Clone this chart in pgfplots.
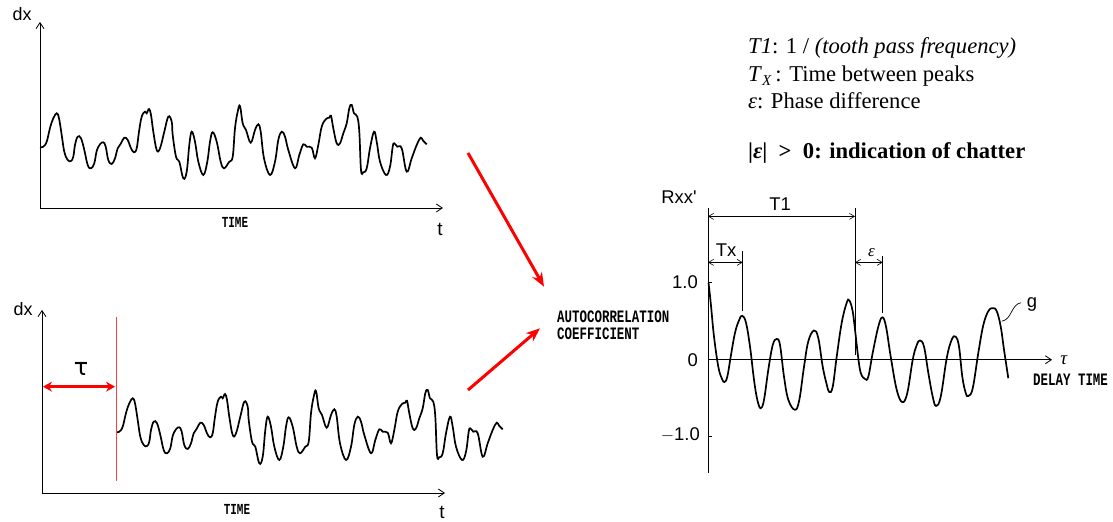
\documentclass[border=0pt]{standalone}
\usepackage{fontspec}
\setmainfont{Liberation Serif}
\newfontfamily\lsans{Liberation Sans}
\newfontfamily\lmono{Liberation Mono}
\newfontfamily\dvs{DejaVu Sans}
\usepackage{pgfplots}
\pgfplotsset{compat=1.18}
\usepackage{pgfplotstable}
\usetikzlibrary{arrows.meta}

\pgfplotstableread{
t h
40 60.7
43.3 61.3
46.7 66.3
50 80
53.3 89.7
56.7 94.7
59 89.7
61.7 73
64.3 56.3
67.7 48
71 47
73.3 51.3
75 63
77.7 71.3
81 69.7
84.3 58
87.7 43
91 39.7
94.3 44.7
96.7 57
100 63.7
103.3 65.7
105.7 61.3
108.3 48
111.7 44
115 49.7
117.7 59.7
121 64.7
124.3 70.3
127.7 68
131 59.7
134 55.7
136.7 59.7
139 76.3
141.7 91.3
145 96.3
146.7 94.7
149 99
151 93
153.3 76.3
156.7 58
160 59.7
164.3 76.3
168.3 91.3
171.7 86.3
172.7 73
176 51.3
179.3 46.3
183.3 29.7
186.7 36.3
189.3 63
191.7 76.3
195 66.3
198.3 46.3
203.3 33
207.3 46.3
210 66.3
212.7 75.7
216.7 66.3
220.7 46.3
224 39.7
229.3 46.3
232.7 51.3
235 79.7
237.7 96.3
240 102
242.7 84.7
246 78
250.7 65.3
255 78
258.3 83.7
260.7 76.3
264 49.7
270 33
275 46.3
278.3 68
281.7 76.3
285 71.3
288.3 58
295 39.7
299.3 53
303.3 63.7
306.7 61.3
311.7 60.3
315 49.7
318.3 63
321.7 81.3
326 89
329.3 90.3
331 92.3
333.3 79.7
336.7 64.7
340 64.7
343.3 74.7
346.7 84.7
349.3 99.7
351.7 103
354 94.7
357.3 91.3
359.3 76.3
361 38
363.3 35.7
366.7 39.7
370 59.7
374 76.3
376.7 66.3
380 46.3
386 33
390 41.3
392.7 61.3
394.3 64.7
397.3 61.3
401.7 59.7
406.7 36.3
411.7 49.7
416.7 63
420.7 70.3
423.3 67
426.7 63.7
}\signal

\pgfplotstableread{
tau R
0.5 1.00
2.7 0.74
6 0.30
10.3 -0.09
13.7 -0.24
16.3 -0.29
19.3 -0.22
22.7 0.04
27 0.35
31.3 0.52
34.3 0.57
38 0.48
42 0.17
46 -0.26
49.3 -0.52
52.7 -0.63
56 -0.52
60.3 -0.13
64.7 0.19
68.7 0.27
72 0.19
76 -0.22
80.3 -0.52
87 -0.65
91.3 -0.52
96 -0.09
100.3 0.24
106 0.38
110.3 0.28
114.7 -0.09
118.7 -0.32
121.3 -0.42
124.7 -0.35
128.7 0.04
133.7 0.48
138.7 0.74
141.3 0.77
144.5 0.64
147 0.39
150 0.05
152.7 -0.17
157 -0.25
160.3 -0.22
164.7 0.09
170.3 0.43
174.3 0.55
178 0.43
182.7 0.04
188.7 -0.39
194.3 -0.55
199.3 -0.43
204.7 0.0
208.7 0.19
212 0.25
216 0.17
220.3 -0.17
224.7 -0.48
228 -0.60
232.7 -0.48
238.7 0.02
243.7 0.26
247.7 0.30
251 0.17
254.3 -0.22
257.7 -0.43
260.3 -0.47
264.7 -0.37
270.3 0.09
275.3 0.45
280.3 0.63
284.7 0.67
288.7 0.63
292.7 0.43
296 0.13
300.3 -0.24
}\acf

\tikzset{
  barb/.style={-{Straight Barb[length=6bp,width=8bp]}},
  dim/.style={line width=0.6bp,{Straight Barb[length=5bp,width=6bp]}-{Straight Barb[length=5bp,width=6bp]}},
  mono/.style={font=\lmono\bfseries\fontsize{12.5}{14}\selectfont},
  sig/.style={black,line width=1.7bp,smooth,tension=0.65},
}
\newcommand{\cond}[1]{\scalebox{1}[1.4]{#1}}

\begin{document}
\begin{tikzpicture}[x=1bp,y=1bp]
\path[use as bounding box] (0,0) rectangle (1113,522);

% ---- top signal ----
\begin{axis}[at={(40bp,314bp)},anchor=south west,scale only axis,
  width=403bp,height=186bp,xmin=40,xmax=443,ymin=0,ymax=186,
  axis lines=left,axis line style={line width=0.8bp,barb},
  xtick=\empty,ytick=\empty,clip=false]
\addplot[sig] table[x=t,y=h]{\signal};
\end{axis}

% ---- bottom (delayed) signal ----
\begin{axis}[at={(42bp,29bp)},anchor=south west,scale only axis,
  width=403bp,height=183bp,xmin=-34,xmax=369,ymin=0,ymax=183,
  axis lines=left,axis line style={line width=0.8bp,barb},
  xtick=\empty,ytick=\empty,clip=false]
\addplot[sig] table[x=t,y=h]{\signal};
\end{axis}

% ---- autocorrelation ----
\begin{axis}[at={(708bp,49bp)},anchor=south west,scale only axis,
  width=344bp,height=265bp,xmin=0,xmax=344,ymin=-1.47,ymax=1.97,
  axis lines=none,clip=false]
\draw[line width=0.8bp] (axis cs:0,1.97) -- (axis cs:0,-1.47);
\draw[line width=0.8bp,barb] (axis cs:0,0) -- (axis cs:344,0);
\draw[line width=0.8bp] (axis cs:0,1) -- (axis cs:4,1);
\draw[line width=0.8bp] (axis cs:0,-1) -- (axis cs:4,-1);
\addplot[sig] table[x=tau,y=R]{\acf};
% dimension lines
\draw[line width=0.6bp] (axis cs:147,1.97) -- (axis cs:147,0.065);
\draw[dim] (axis cs:0,1.861) -- (axis cs:147,1.861);
\draw[line width=0.6bp] (axis cs:34.7,1.406) -- (axis cs:34.7,0.627);
\draw[dim] (axis cs:0,1.264) -- (axis cs:34.7,1.264);
\draw[line width=0.6bp] (axis cs:174.7,1.342) -- (axis cs:174.7,0.61);
\draw[dim] (axis cs:147,1.264) -- (axis cs:174.7,1.264);
\draw[line width=0.7bp] (axis cs:293.7,0.50) .. controls (axis cs:304,0.52) and (axis cs:303,0.72) .. (axis cs:313,0.74);
\end{axis}

% labels of autocorrelation axis
\begin{scope}[font=\lsans\fontsize{18.5}{20}\selectfont]
\node[anchor=east,inner sep=0] at (698,240) {1.0};
\node[anchor=east,inner sep=0] at (698,162) {0};
\node[anchor=east,inner sep=0] at (700,87) {$-$1.0};
\node[inner sep=0] at (679,325) {Rxx\textquotesingle};
\node[inner sep=0] at (780,318) {T1};
\node[inner sep=0] at (726,272) {Tx};
\node[inner sep=0] at (1032,218) {g};
\end{scope}
\node[inner sep=0,font=\fontsize{17}{19}\selectfont] at (871.5,269) {\textit{ε}};
\node[inner sep=0,font=\fontsize{19}{21}\selectfont] at (1064,162) {\textit{τ}};
\node[mono,anchor=west,inner sep=0] at (1033,142) {\cond{DELAY TIME}};

% signal labels
\begin{scope}[font=\lsans\fontsize{18}{20}\selectfont]
\node[inner sep=0] at (22,508) {dx};
\node[inner sep=0] at (23,213) {dx};
\end{scope}
\begin{scope}[font=\lsans\fontsize{19}{21}\selectfont]
\node[inner sep=0] at (440,293) {t};
\node[inner sep=0] at (442,10) {t};
\end{scope}
\node[mono,inner sep=0,font=\lmono\bfseries\fontsize{11}{13}\selectfont] at (235,300) {\cond{TIME}};
\node[mono,inner sep=0,font=\lmono\bfseries\fontsize{11}{13}\selectfont] at (237,13) {\cond{TIME}};
\node[mono,anchor=base west,inner sep=0] at (557,199.5) {\cond{AUTOCORRELATION}};
\node[mono,anchor=base west,inner sep=0] at (557,182) {\cond{COEFFICIENT}};

% red annotations
\draw[red!75,line width=1bp] (116,205) -- (116,41);
\draw[red,line width=3bp,{Stealth[length=9bp,width=10bp]}-{Stealth[length=9bp,width=10bp]}] (43,135.3) -- (115,135.3);
\node[inner sep=0,font=\dvs\fontsize{24}{26}\selectfont] at (81,153) {τ};
\draw[red,line width=3bp,-{Stealth[length=14bp,width=11bp]}] (468,369) -- (544,235.3);
\draw[red,line width=3bp,-{Stealth[length=14bp,width=11bp]}] (468,132) -- (540,193.7);

% text block
\begin{scope}[font=\fontsize{22.7}{26}\selectfont]
\node[anchor=base west,inner sep=0] at (748,468.7) {\textit{T1}: 1 / \textit{(tooth pass frequency)}};
\node[anchor=base west,inner sep=0] at (748,440.3) {\textit{T}\raisebox{-0.35ex}{\fontsize{15}{16}\selectfont\textit{X}}\,: Time between peaks};
\node[anchor=base west,inner sep=0] at (748,413.7) {\textit{ε}: Phase difference};
\node[anchor=base west,inner sep=0] at (748,363.7) {\textbf{|\textit{ε}|\ \ > \ 0}\textbf{: indication of chatter}};
\end{scope}
\end{tikzpicture}
\end{document}
